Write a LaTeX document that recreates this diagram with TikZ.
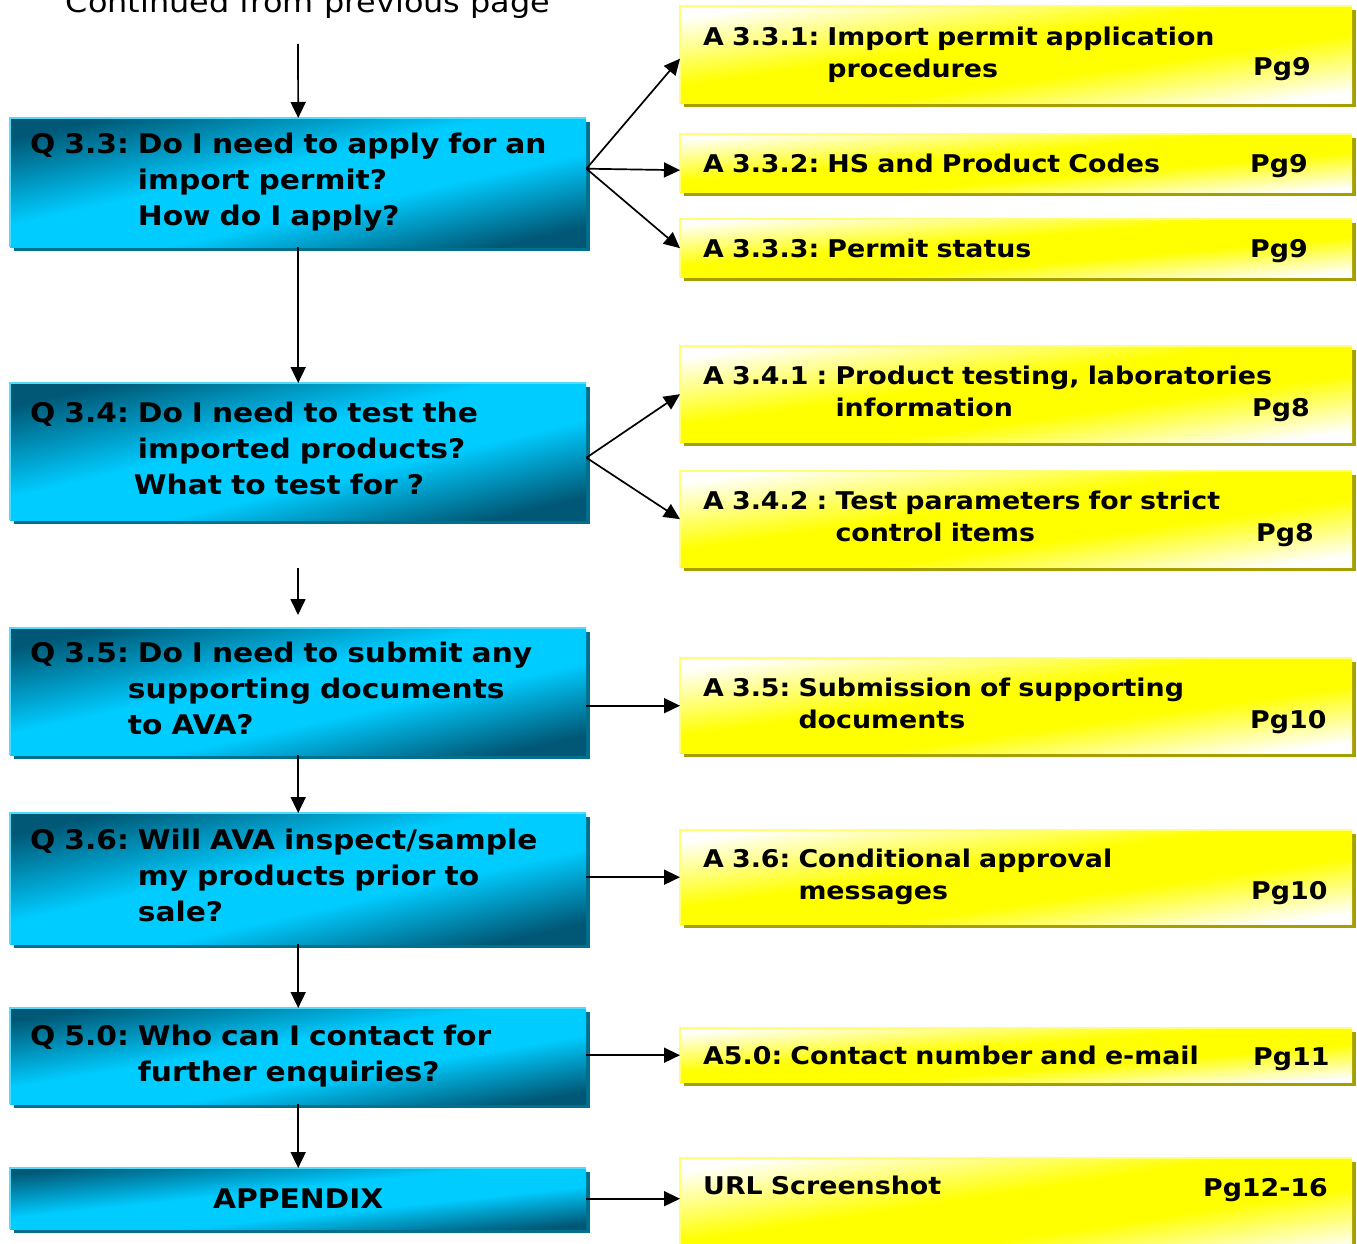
\documentclass[tikz,border=0pt]{standalone}
\usepackage{fontspec}
\setmainfont{DejaVu Sans}[FakeStretch=1.1]
\usetikzlibrary{arrows.meta,shadows}

\definecolor{qdark}{RGB}{0,88,118}
\definecolor{qcyan}{RGB}{0,204,255}
\definecolor{qlight}{RGB}{85,218,250}
\definecolor{qshade}{RGB}{0,112,142}
\definecolor{ayellow}{RGB}{255,255,0}
\definecolor{alight}{RGB}{255,255,120}
\definecolor{ashade}{RGB}{165,160,0}

\pgfdeclareverticalshading{qshading}{100bp}{color(0bp)=(qdark); color(25bp)=(qdark);
  color(42bp)=(qcyan); color(55bp)=(qcyan); color(75bp)=(qdark); color(100bp)=(qdark)}
\pgfdeclareverticalshading{ashading}{100bp}{color(0bp)=(white); color(25bp)=(white);
  color(42bp)=(ayellow); color(55bp)=(ayellow); color(75bp)=(white); color(100bp)=(white)}

\newcommand{\qtxt}{\fontsize{27}{36}\selectfont\bfseries}
\newcommand{\atxt}{\fontsize{24.4}{32}\selectfont\bfseries}
\newcommand{\ctxt}{\fontsize{29}{36}\selectfont}

\tikzset{
  qbox/.style 2 args={rectangle, anchor=north west, minimum height=#1,
    text width=536pt, inner xsep=20pt, inner ysep=0pt, align=left, font=\qtxt,
    shade, shading=qshading, shading angle=#2,
    drop shadow={shadow xshift=4pt, shadow yshift=-4pt, fill=qshade, opacity=1}},
  abox/.style 2 args={rectangle, anchor=north west, minimum height=#1,
    text width=626pt, inner xsep=23pt, inner ysep=0pt, align=left, font=\atxt,
    shade, shading=ashading, shading angle=#2,
    drop shadow={shadow xshift=4pt, shadow yshift=-4pt, fill=ashade, opacity=1}},
  qrim/.style={draw=qlight, line width=2.5pt},
  arim/.style={draw=alight, line width=2.5pt},
  pg/.style={font=\atxt, inner sep=0pt},
  link/.style={-{Triangle[length=16pt,width=15pt]}, line width=1.7pt},
}

\begin{document}
\frenchspacing
\begin{tikzpicture}[x=1pt,y=-1pt]
\useasboundingbox (0,0) rectangle (1357,1244);

\node[font=\ctxt, anchor=base] (cont) at (308,13) {Continued from previous page};

% questions
\node[qbox={129}{12.6}] (q33) at (10,118) {\begin{tabular}{@{}l@{\ }l@{}}
  Q 3.3: & Do I need to apply for an\\ & import permit?\\ & How do I apply?\end{tabular}};
\node[qbox={137}{13.4}] (q34) at (10,383) {\begin{tabular}{@{}l@{\ }l@{}}
  Q 3.4: & Do I need to test the\\ & imported products?\\ & \hspace*{-4pt}What to test for ?\end{tabular}};
\node[qbox={127}{12.4}] (q35) at (10,628) {\begin{tabular}{@{}l@{\ }l@{}}
  Q 3.5: & Do I need to submit any\\ & \hspace*{-10pt}supporting documents\\ & \hspace*{-10pt}to AVA?\end{tabular}};
\node[qbox={131}{12.8}] (q36) at (10,813) {\begin{tabular}{@{}l@{\ }l@{}}
  Q 3.6: & Will AVA inspect/sample\\ & my products prior to\\ & sale?\end{tabular}};
\node[qbox={96}{9.5}] (q50) at (10,1008) {\begin{tabular}{@{}l@{\ }l@{}}
  Q 5.0: & Who can I contact for\\ & further enquiries?\end{tabular}};
\node[qbox={61}{6}, align=center] (appx) at (10,1168) {APPENDIX};

% answers
\node[abox={97}{8.2}] (a331) at (680,6) {\begin{tabular}{@{}l@{\ }l@{}}
  A 3.3.1: & Import permit application\\ & procedures\end{tabular}};
\node[abox={58}{4.9}] (a332) at (680,134) {A 3.3.2: HS and Product Codes};
\node[abox={58}{4.9}] (a333) at (680,219) {A 3.3.3: Permit status};
\node[abox={96}{8.1}] (a341) at (680,346) {\begin{tabular}{@{}l@{\ }l@{}}
  A 3.4.1 : & Product testing, laboratories\\ & information\end{tabular}};
\node[abox={96}{8.1}] (a342) at (680,471) {\begin{tabular}{@{}l@{\ }l@{}}
  A 3.4.2 : & Test parameters for strict\\ & control items\end{tabular}};
\node[abox={95}{8}] (a35) at (680,658) {\begin{tabular}{@{}l@{\ }l@{}}
  A 3.5: & Submission of supporting\\ & documents\end{tabular}};
\node[abox={94}{8}] (a36) at (680,830) {\begin{tabular}{@{}l@{\ }l@{}}
  A 3.6: & Conditional approval\\ & messages\end{tabular}};
\node[abox={54}{4.6}] (a50) at (680,1028) {A5.0: Contact number and e-mail};
\node[abox={102}{8.6}, text depth=48pt] (url) at (680,1158) {URL Screenshot};

\foreach \b in {q33,q34,q35,q36,q50,appx}
  \draw[qrim] (\b.south west) |- (\b.north east);
\foreach \b in {a331,a332,a333,a341,a342,a35,a36,a50,url}
  \draw[arim] (\b.south west) |- (\b.north east);

% page numbers
\node[pg, anchor=base west] (pg331) at (1253,76) {Pg9};
\node[pg, anchor=base west] (pg332) at (1250,172) {Pg9};
\node[pg, anchor=base west] (pg333) at (1250,257) {Pg9};
\node[pg, anchor=base west] (pg341) at (1252,416) {Pg8};
\node[pg, anchor=base west] (pg342) at (1256,541) {Pg8};
\node[pg, anchor=base west] (pg35) at (1250,728) {Pg10};
\node[pg, anchor=base west] (pg36) at (1251,899) {Pg10};
\node[pg, anchor=base west] (pg50) at (1253,1065) {Pg11};
\node[pg, anchor=base east] (pgurl) at (1328,1196) {Pg12-16};

% down the left column
\coordinate (c0) at (298,44);
\coordinate (c1) at (298,568);
\coordinate (c2) at (298,615);
\draw[link] (c0) -- (q33.north);
\draw[link] (q33.south) -- (q34.north);
\draw[link] (c1) -- (c2);
\draw[link] (q35.south) -- (q36.north);
\draw[link] (q36.south) -- (q50.north);
\draw[link] (q50.south) -- (appx.north);

% across to the answers
\coordinate (f33) at ([yshift=14pt]q33.east);
\coordinate (f34) at ([yshift=-6pt]q34.east);
\draw[link] (f33) -- ([yshift=-4pt]a331.west);
\draw[link] (f33) -- ([yshift=-7pt]a332.west);
\draw[link] (f33) -- (a333.west);
\draw[link] (f34) -- (a341.west);
\draw[link] (f34) -- (a342.west);
\draw[link] (q35.east |- a35.west) -- (a35.west);
\draw[link] (q36.east |- a36.west) -- (a36.west);
\draw[link] (q50.east |- a50.west) -- (a50.west);
\draw[link] (appx.east) -- (appx.east -| url.west);
\end{tikzpicture}
\end{document}
